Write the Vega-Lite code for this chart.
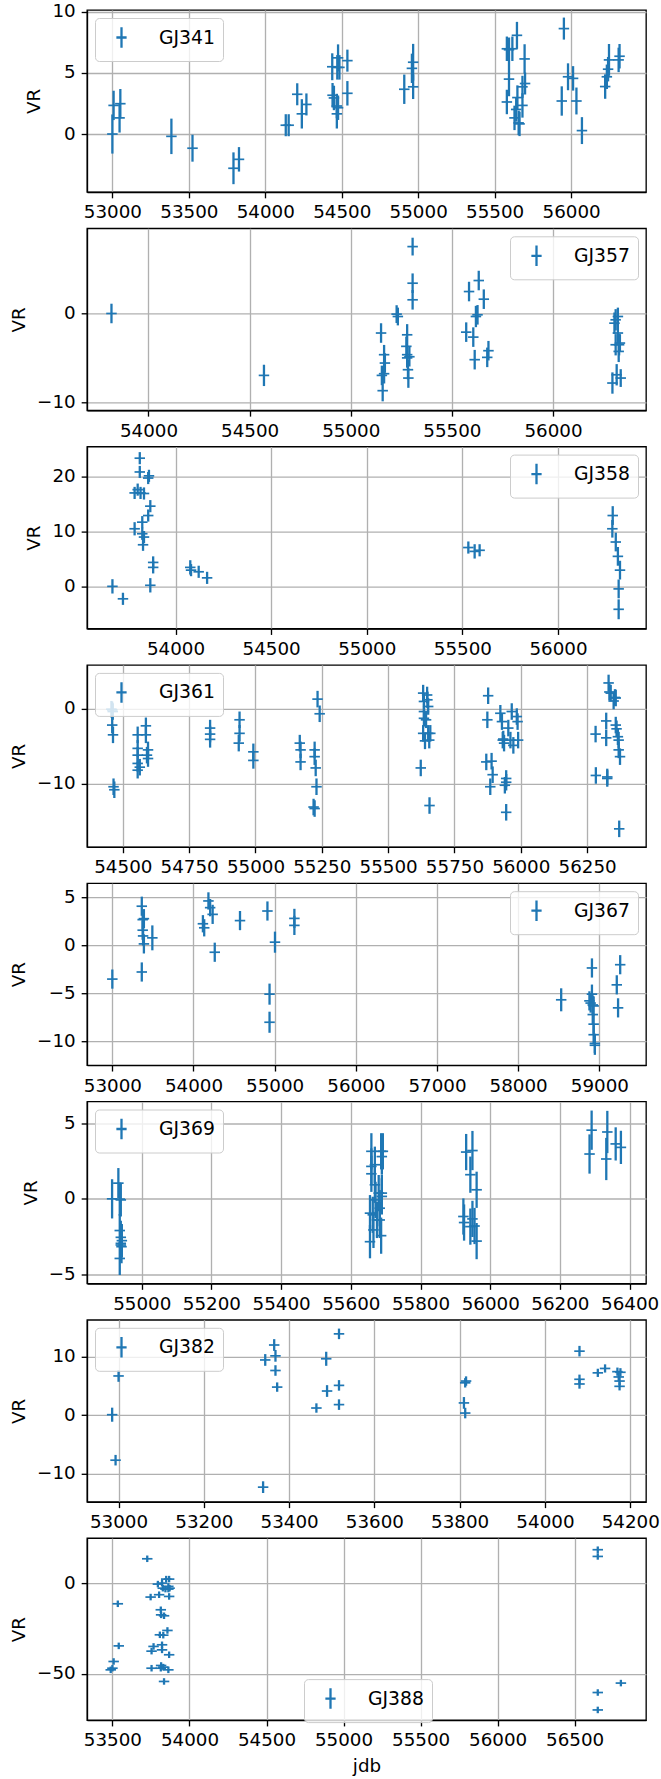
{
"$schema": "https://vega.github.io/schema/vega-lite/v6.json",
"background": "white",
"padding": {"left": 8, "top": 1, "right": 0, "bottom": 0},
"autosize": {"type": "pad"},
"spacing": 36.3,
"bounds": "flush",
"datasets": {
"GJ341": [
{"star":"GJ341","jdb":53000,"vr":0.0,"err":1.6},{"star":"GJ341","jdb":53008,"vr":2.34,"err":1.2},{"star":"GJ341","jdb":53047,"vr":1.32,"err":1.2},{"star":"GJ341","jdb":53052,"vr":2.48,"err":1.2},{"star":"GJ341","jdb":53386,"vr":-0.19,"err":1.45},{"star":"GJ341","jdb":53524,"vr":-1.16,"err":1.1},{"star":"GJ341","jdb":53792,"vr":-2.8,"err":1.3},{"star":"GJ341","jdb":53828,"vr":-2.07,"err":1.0},{"star":"GJ341","jdb":54134,"vr":0.72,"err":0.9},{"star":"GJ341","jdb":54153,"vr":0.72,"err":0.9},{"star":"GJ341","jdb":54209,"vr":3.25,"err":0.9},{"star":"GJ341","jdb":54239,"vr":1.65,"err":1.2},{"star":"GJ341","jdb":54269,"vr":2.42,"err":0.9},{"star":"GJ341","jdb":54438,"vr":5.5,"err":1.1},{"star":"GJ341","jdb":54440,"vr":3.17,"err":1.0},{"star":"GJ341","jdb":54449,"vr":2.95,"err":1.0},{"star":"GJ341","jdb":54468,"vr":2.29,"err":1.0},{"star":"GJ341","jdb":54468,"vr":1.65,"err":1.2},{"star":"GJ341","jdb":54471,"vr":5.45,"err":1.0},{"star":"GJ341","jdb":54476,"vr":6.23,"err":1.1},{"star":"GJ341","jdb":54485,"vr":5.45,"err":1.0},{"star":"GJ341","jdb":54476,"vr":2.15,"err":1.0},{"star":"GJ341","jdb":54537,"vr":6.0,"err":0.9},{"star":"GJ341","jdb":54537,"vr":3.33,"err":1.0},{"star":"GJ341","jdb":54909,"vr":3.66,"err":1.2},{"star":"GJ341","jdb":54959,"vr":5.37,"err":1.2},{"star":"GJ341","jdb":54967,"vr":5.87,"err":1.5},{"star":"GJ341","jdb":54967,"vr":3.86,"err":1.0},{"star":"GJ341","jdb":55580,"vr":6.97,"err":1.0},{"star":"GJ341","jdb":55594,"vr":6.89,"err":1.0},{"star":"GJ341","jdb":55594,"vr":4.49,"err":1.4},{"star":"GJ341","jdb":55580,"vr":2.62,"err":1.0},{"star":"GJ341","jdb":55616,"vr":6.97,"err":1.0},{"star":"GJ341","jdb":55630,"vr":1.32,"err":1.0},{"star":"GJ341","jdb":55641,"vr":2.01,"err":1.0},{"star":"GJ341","jdb":55646,"vr":8.07,"err":1.1},{"star":"GJ341","jdb":55649,"vr":2.98,"err":1.0},{"star":"GJ341","jdb":55657,"vr":0.91,"err":1.0},{"star":"GJ341","jdb":55663,"vr":0.83,"err":1.0},{"star":"GJ341","jdb":55682,"vr":2.34,"err":1.0},{"star":"GJ341","jdb":55682,"vr":3.86,"err":0.9},{"star":"GJ341","jdb":55696,"vr":6.14,"err":1.2},{"star":"GJ341","jdb":55699,"vr":4.13,"err":0.9},{"star":"GJ341","jdb":55939,"vr":2.7,"err":1.2},{"star":"GJ341","jdb":55953,"vr":8.62,"err":0.9},{"star":"GJ341","jdb":55980,"vr":4.68,"err":1.1},{"star":"GJ341","jdb":56013,"vr":4.55,"err":1.0},{"star":"GJ341","jdb":56035,"vr":2.7,"err":1.1},{"star":"GJ341","jdb":56071,"vr":0.28,"err":1.1},{"star":"GJ341","jdb":56223,"vr":3.88,"err":1.0},{"star":"GJ341","jdb":56234,"vr":4.68,"err":1.0},{"star":"GJ341","jdb":56242,"vr":5.3,"err":1.0},{"star":"GJ341","jdb":56248,"vr":6.06,"err":1.3},{"star":"GJ341","jdb":56311,"vr":6.06,"err":1.0},{"star":"GJ341","jdb":56317,"vr":6.36,"err":1.0}
],
"GJ357": [
{"star":"GJ357","jdb":53817,"vr":0.0,"err":1.1},{"star":"GJ357","jdb":54571,"vr":-6.97,"err":1.2},{"star":"GJ357","jdb":55150,"vr":-2.2,"err":1.1},{"star":"GJ357","jdb":55154,"vr":-6.97,"err":1.1},{"star":"GJ357","jdb":55158,"vr":-8.69,"err":1.2},{"star":"GJ357","jdb":55165,"vr":-4.64,"err":1.1},{"star":"GJ357","jdb":55169,"vr":-5.58,"err":1.1},{"star":"GJ357","jdb":55165,"vr":-6.78,"err":1.1},{"star":"GJ357","jdb":55227,"vr":-0.07,"err":1.0},{"star":"GJ357","jdb":55233,"vr":-0.34,"err":1.0},{"star":"GJ357","jdb":55279,"vr":-2.4,"err":1.2},{"star":"GJ357","jdb":55275,"vr":-3.7,"err":1.1},{"star":"GJ357","jdb":55279,"vr":-4.64,"err":1.1},{"star":"GJ357","jdb":55279,"vr":-5.0,"err":1.1},{"star":"GJ357","jdb":55283,"vr":-6.33,"err":1.1},{"star":"GJ357","jdb":55285,"vr":-7.27,"err":1.1},{"star":"GJ357","jdb":55290,"vr":-4.87,"err":1.1},{"star":"GJ357","jdb":55306,"vr":7.53,"err":1.0},{"star":"GJ357","jdb":55306,"vr":3.41,"err":1.1},{"star":"GJ357","jdb":55306,"vr":1.54,"err":1.1},{"star":"GJ357","jdb":55571,"vr":-2.1,"err":1.1},{"star":"GJ357","jdb":55585,"vr":2.47,"err":1.1},{"star":"GJ357","jdb":55606,"vr":-2.66,"err":1.1},{"star":"GJ357","jdb":55613,"vr":-5.2,"err":1.1},{"star":"GJ357","jdb":55619,"vr":-0.34,"err":1.2},{"star":"GJ357","jdb":55627,"vr":-0.15,"err":1.1},{"star":"GJ357","jdb":55633,"vr":3.71,"err":1.1},{"star":"GJ357","jdb":55658,"vr":1.61,"err":1.1},{"star":"GJ357","jdb":55675,"vr":-4.94,"err":1.1},{"star":"GJ357","jdb":55681,"vr":-4.19,"err":1.1},{"star":"GJ357","jdb":56294,"vr":-7.83,"err":1.2},{"star":"GJ357","jdb":56304,"vr":-1.09,"err":1.2},{"star":"GJ357","jdb":56310,"vr":-3.52,"err":1.2},{"star":"GJ357","jdb":56310,"vr":-0.71,"err":1.2},{"star":"GJ357","jdb":56315,"vr":-6.9,"err":1.2},{"star":"GJ357","jdb":56321,"vr":-0.34,"err":1.0},{"star":"GJ357","jdb":56321,"vr":-2.2,"err":1.2},{"star":"GJ357","jdb":56327,"vr":-3.52,"err":1.2},{"star":"GJ357","jdb":56325,"vr":-4.27,"err":1.2},{"star":"GJ357","jdb":56335,"vr":-7.27,"err":1.0},{"star":"GJ357","jdb":56331,"vr":-3.33,"err":1.0}
],
"GJ358": [
{"star":"GJ358","jdb":53670,"vr":0.06,"err":1.3},{"star":"GJ358","jdb":53725,"vr":-2.2,"err":1.1},{"star":"GJ358","jdb":53786,"vr":17.0,"err":1.1},{"star":"GJ358","jdb":53786,"vr":10.5,"err":1.2},{"star":"GJ358","jdb":53802,"vr":17.6,"err":1.1},{"star":"GJ358","jdb":53813,"vr":23.3,"err":1.1},{"star":"GJ358","jdb":53813,"vr":20.8,"err":1.1},{"star":"GJ358","jdb":53817,"vr":17.0,"err":1.1},{"star":"GJ358","jdb":53835,"vr":16.9,"err":1.1},{"star":"GJ358","jdb":53826,"vr":11.7,"err":1.1},{"star":"GJ358","jdb":53826,"vr":9.6,"err":1.1},{"star":"GJ358","jdb":53830,"vr":7.6,"err":1.1},{"star":"GJ358","jdb":53835,"vr":9.0,"err":1.1},{"star":"GJ358","jdb":53857,"vr":19.7,"err":1.1},{"star":"GJ358","jdb":53861,"vr":20.1,"err":1.1},{"star":"GJ358","jdb":53857,"vr":12.9,"err":1.1},{"star":"GJ358","jdb":53868,"vr":14.6,"err":1.1},{"star":"GJ358","jdb":53868,"vr":0.25,"err":1.3},{"star":"GJ358","jdb":53883,"vr":4.4,"err":1.1},{"star":"GJ358","jdb":53883,"vr":3.5,"err":1.1},{"star":"GJ358","jdb":54077,"vr":3.5,"err":1.3},{"star":"GJ358","jdb":54081,"vr":3.0,"err":1.1},{"star":"GJ358","jdb":54121,"vr":2.7,"err":1.1},{"star":"GJ358","jdb":54165,"vr":1.6,"err":1.1},{"star":"GJ358","jdb":55531,"vr":7.1,"err":1.1},{"star":"GJ358","jdb":55564,"vr":6.4,"err":1.3},{"star":"GJ358","jdb":55590,"vr":6.6,"err":1.1},{"star":"GJ358","jdb":56286,"vr":12.9,"err":1.7},{"star":"GJ358","jdb":56284,"vr":10.5,"err":1.6},{"star":"GJ358","jdb":56302,"vr":8.1,"err":1.7},{"star":"GJ358","jdb":56313,"vr":5.5,"err":1.7},{"star":"GJ358","jdb":56324,"vr":3.0,"err":1.7},{"star":"GJ358","jdb":56317,"vr":-0.4,"err":1.7},{"star":"GJ358","jdb":56317,"vr":-4.1,"err":1.8}
],
"GJ361": [
{"star":"GJ361","jdb":54457,"vr":-0.09,"err":1.1},{"star":"GJ361","jdb":54460,"vr":-0.18,"err":1.1},{"star":"GJ361","jdb":54462,"vr":-0.4,"err":1.1},{"star":"GJ361","jdb":54460,"vr":-2.2,"err":1.1},{"star":"GJ361","jdb":54463,"vr":-3.5,"err":1.1},{"star":"GJ361","jdb":54465,"vr":-10.4,"err":1.1},{"star":"GJ361","jdb":54468,"vr":-10.8,"err":1.1},{"star":"GJ361","jdb":54556,"vr":-3.5,"err":1.1},{"star":"GJ361","jdb":54556,"vr":-5.3,"err":1.1},{"star":"GJ361","jdb":54556,"vr":-6.2,"err":1.1},{"star":"GJ361","jdb":54556,"vr":-7.3,"err":1.1},{"star":"GJ361","jdb":54556,"vr":-8.2,"err":1.1},{"star":"GJ361","jdb":54564,"vr":-7.8,"err":1.1},{"star":"GJ361","jdb":54587,"vr":-2.3,"err":1.1},{"star":"GJ361","jdb":54587,"vr":-3.5,"err":1.1},{"star":"GJ361","jdb":54595,"vr":-5.5,"err":1.1},{"star":"GJ361","jdb":54595,"vr":-6.65,"err":1.1},{"star":"GJ361","jdb":54591,"vr":-6.2,"err":1.1},{"star":"GJ361","jdb":54829,"vr":-2.6,"err":1.1},{"star":"GJ361","jdb":54829,"vr":-3.4,"err":1.1},{"star":"GJ361","jdb":54829,"vr":-4.1,"err":1.1},{"star":"GJ361","jdb":54940,"vr":-1.5,"err":1.1},{"star":"GJ361","jdb":54940,"vr":-3.3,"err":1.1},{"star":"GJ361","jdb":54937,"vr":-4.6,"err":1.1},{"star":"GJ361","jdb":54992,"vr":-5.76,"err":1.1},{"star":"GJ361","jdb":54992,"vr":-6.9,"err":1.1},{"star":"GJ361","jdb":55167,"vr":-4.6,"err":1.1},{"star":"GJ361","jdb":55170,"vr":-5.5,"err":1.1},{"star":"GJ361","jdb":55170,"vr":-7.1,"err":1.1},{"star":"GJ361","jdb":55223,"vr":-5.5,"err":1.1},{"star":"GJ361","jdb":55223,"vr":-6.4,"err":1.1},{"star":"GJ361","jdb":55227,"vr":-7.9,"err":1.1},{"star":"GJ361","jdb":55230,"vr":-10.4,"err":1.1},{"star":"GJ361","jdb":55219,"vr":-13.1,"err":1.1},{"star":"GJ361","jdb":55223,"vr":-13.3,"err":1.1},{"star":"GJ361","jdb":55234,"vr":1.25,"err":1.1},{"star":"GJ361","jdb":55242,"vr":-0.7,"err":1.1},{"star":"GJ361","jdb":55623,"vr":-7.9,"err":1.1},{"star":"GJ361","jdb":55632,"vr":2.05,"err":1.1},{"star":"GJ361","jdb":55635,"vr":0.94,"err":1.1},{"star":"GJ361","jdb":55635,"vr":-0.4,"err":1.1},{"star":"GJ361","jdb":55635,"vr":-1.3,"err":1.1},{"star":"GJ361","jdb":55632,"vr":-3.3,"err":1.1},{"star":"GJ361","jdb":55639,"vr":-4.3,"err":1.1},{"star":"GJ361","jdb":55643,"vr":-1.5,"err":1.1},{"star":"GJ361","jdb":55647,"vr":1.8,"err":1.1},{"star":"GJ361","jdb":55648,"vr":1.16,"err":1.1},{"star":"GJ361","jdb":55651,"vr":0.27,"err":1.1},{"star":"GJ361","jdb":55651,"vr":-3.3,"err":1.1},{"star":"GJ361","jdb":55655,"vr":-4.2,"err":1.1},{"star":"GJ361","jdb":55656,"vr":-12.9,"err":1.1},{"star":"GJ361","jdb":55659,"vr":-3.3,"err":1.1},{"star":"GJ361","jdb":55877,"vr":1.7,"err":1.1},{"star":"GJ361","jdb":55874,"vr":-1.5,"err":1.1},{"star":"GJ361","jdb":55870,"vr":-7.1,"err":1.1},{"star":"GJ361","jdb":55890,"vr":-7.0,"err":1.1},{"star":"GJ361","jdb":55885,"vr":-10.4,"err":1.1},{"star":"GJ361","jdb":55894,"vr":-8.8,"err":1.1},{"star":"GJ361","jdb":55923,"vr":-0.63,"err":1.1},{"star":"GJ361","jdb":55929,"vr":-1.74,"err":1.1},{"star":"GJ361","jdb":55932,"vr":-4.2,"err":1.1},{"star":"GJ361","jdb":55934,"vr":-4.06,"err":1.1},{"star":"GJ361","jdb":55937,"vr":-4.6,"err":1.1},{"star":"GJ361","jdb":55940,"vr":-10.2,"err":1.1},{"star":"GJ361","jdb":55945,"vr":-9.8,"err":1.1},{"star":"GJ361","jdb":55945,"vr":-9.3,"err":1.1},{"star":"GJ361","jdb":55945,"vr":-13.8,"err":1.1},{"star":"GJ361","jdb":55953,"vr":-2.6,"err":1.1},{"star":"GJ361","jdb":55961,"vr":-4.2,"err":1.1},{"star":"GJ361","jdb":55966,"vr":-0.4,"err":1.1},{"star":"GJ361","jdb":55972,"vr":-4.9,"err":1.1},{"star":"GJ361","jdb":55985,"vr":-1.07,"err":1.1},{"star":"GJ361","jdb":55988,"vr":-1.74,"err":1.1},{"star":"GJ361","jdb":55990,"vr":-4.2,"err":1.1},{"star":"GJ361","jdb":56282,"vr":-3.4,"err":1.1},{"star":"GJ361","jdb":56283,"vr":-8.9,"err":1.1},{"star":"GJ361","jdb":56322,"vr":-1.65,"err":1.1},{"star":"GJ361","jdb":56322,"vr":-3.9,"err":1.1},{"star":"GJ361","jdb":56326,"vr":-9.1,"err":1.1},{"star":"GJ361","jdb":56326,"vr":-9.3,"err":1.1},{"star":"GJ361","jdb":56331,"vr":3.4,"err":1.1},{"star":"GJ361","jdb":56334,"vr":2.2,"err":1.1},{"star":"GJ361","jdb":56339,"vr":2.05,"err":1.1},{"star":"GJ361","jdb":56350,"vr":1.0,"err":1.1},{"star":"GJ361","jdb":56355,"vr":1.47,"err":1.1},{"star":"GJ361","jdb":56358,"vr":1.4,"err":1.1},{"star":"GJ361","jdb":56358,"vr":-2.2,"err":1.1},{"star":"GJ361","jdb":56361,"vr":-2.7,"err":1.1},{"star":"GJ361","jdb":56366,"vr":-3.75,"err":1.1},{"star":"GJ361","jdb":56369,"vr":-4.2,"err":1.1},{"star":"GJ361","jdb":56369,"vr":-5.5,"err":1.1},{"star":"GJ361","jdb":56374,"vr":-6.4,"err":1.1},{"star":"GJ361","jdb":56371,"vr":-16.0,"err":1.1}
],
"GJ367": [
{"star":"GJ367","jdb":53000,"vr":-3.5,"err":1.0},{"star":"GJ367","jdb":53363,"vr":4.1,"err":1.0},{"star":"GJ367","jdb":53374,"vr":2.7,"err":1.0},{"star":"GJ367","jdb":53389,"vr":2.8,"err":1.0},{"star":"GJ367","jdb":53374,"vr":1.6,"err":1.0},{"star":"GJ367","jdb":53379,"vr":1.0,"err":1.0},{"star":"GJ367","jdb":53389,"vr":0.17,"err":1.0},{"star":"GJ367","jdb":53363,"vr":-2.76,"err":1.0},{"star":"GJ367","jdb":53493,"vr":0.8,"err":1.3},{"star":"GJ367","jdb":54116,"vr":2.27,"err":0.9},{"star":"GJ367","jdb":54132,"vr":1.85,"err":0.9},{"star":"GJ367","jdb":54184,"vr":4.65,"err":0.9},{"star":"GJ367","jdb":54205,"vr":3.95,"err":0.9},{"star":"GJ367","jdb":54236,"vr":3.25,"err":1.0},{"star":"GJ367","jdb":54262,"vr":-0.7,"err":1.0},{"star":"GJ367","jdb":54573,"vr":2.6,"err":1.0},{"star":"GJ367","jdb":54911,"vr":3.6,"err":1.0},{"star":"GJ367","jdb":54937,"vr":-5.07,"err":1.1},{"star":"GJ367","jdb":54937,"vr":-8.0,"err":1.1},{"star":"GJ367","jdb":55004,"vr":0.35,"err":1.1},{"star":"GJ367","jdb":55243,"vr":2.83,"err":1.0},{"star":"GJ367","jdb":55243,"vr":2.1,"err":1.0},{"star":"GJ367","jdb":58530,"vr":-5.66,"err":1.2},{"star":"GJ367","jdb":58878,"vr":-5.77,"err":1.0},{"star":"GJ367","jdb":58893,"vr":-6.0,"err":1.0},{"star":"GJ367","jdb":58909,"vr":-2.34,"err":1.0},{"star":"GJ367","jdb":58909,"vr":-5.07,"err":1.0},{"star":"GJ367","jdb":58919,"vr":-6.2,"err":1.0},{"star":"GJ367","jdb":58930,"vr":-6.3,"err":1.0},{"star":"GJ367","jdb":58919,"vr":-7.2,"err":1.0},{"star":"GJ367","jdb":58930,"vr":-8.2,"err":1.0},{"star":"GJ367","jdb":58930,"vr":-9.3,"err":1.0},{"star":"GJ367","jdb":58945,"vr":-10.2,"err":1.0},{"star":"GJ367","jdb":58945,"vr":-10.4,"err":1.0},{"star":"GJ367","jdb":59215,"vr":-4.1,"err":1.0},{"star":"GJ367","jdb":59231,"vr":-6.5,"err":1.0},{"star":"GJ367","jdb":59257,"vr":-2.0,"err":1.0}
],
"GJ369": [
{"star":"GJ369","jdb":54915,"vr":0.0,"err":1.3},{"star":"GJ369","jdb":54933,"vr":1.04,"err":1.0},{"star":"GJ369","jdb":54937,"vr":-0.02,"err":1.1},{"star":"GJ369","jdb":54940,"vr":-0.07,"err":1.1},{"star":"GJ369","jdb":54937,"vr":-2.1,"err":1.1},{"star":"GJ369","jdb":54940,"vr":-2.55,"err":1.1},{"star":"GJ369","jdb":54940,"vr":-2.95,"err":1.1},{"star":"GJ369","jdb":54942,"vr":-3.17,"err":1.1},{"star":"GJ369","jdb":54940,"vr":-3.06,"err":1.1},{"star":"GJ369","jdb":54937,"vr":-3.95,"err":1.1},{"star":"GJ369","jdb":54943,"vr":-2.77,"err":1.1},{"star":"GJ369","jdb":55655,"vr":-0.95,"err":1.2},{"star":"GJ369","jdb":55655,"vr":-2.84,"err":1.1},{"star":"GJ369","jdb":55659,"vr":2.15,"err":1.2},{"star":"GJ369","jdb":55659,"vr":1.66,"err":1.2},{"star":"GJ369","jdb":55659,"vr":3.15,"err":1.2},{"star":"GJ369","jdb":55663,"vr":-1.06,"err":1.2},{"star":"GJ369","jdb":55665,"vr":-2.06,"err":1.2},{"star":"GJ369","jdb":55669,"vr":2.26,"err":1.2},{"star":"GJ369","jdb":55669,"vr":0.93,"err":1.2},{"star":"GJ369","jdb":55671,"vr":-0.07,"err":1.2},{"star":"GJ369","jdb":55675,"vr":-1.4,"err":1.2},{"star":"GJ369","jdb":55680,"vr":0.38,"err":1.2},{"star":"GJ369","jdb":55683,"vr":-0.62,"err":1.2},{"star":"GJ369","jdb":55687,"vr":3.15,"err":1.2},{"star":"GJ369","jdb":55689,"vr":2.8,"err":1.2},{"star":"GJ369","jdb":55689,"vr":0.38,"err":1.2},{"star":"GJ369","jdb":55683,"vr":-1.4,"err":1.2},{"star":"GJ369","jdb":55687,"vr":-2.44,"err":1.2},{"star":"GJ369","jdb":55689,"vr":0.16,"err":1.2},{"star":"GJ369","jdb":55692,"vr":3.15,"err":1.2},{"star":"GJ369","jdb":55931,"vr":3.1,"err":1.2},{"star":"GJ369","jdb":55923,"vr":-1.17,"err":1.2},{"star":"GJ369","jdb":55925,"vr":-1.57,"err":1.2},{"star":"GJ369","jdb":55949,"vr":3.2,"err":1.3},{"star":"GJ369","jdb":55943,"vr":1.6,"err":1.2},{"star":"GJ369","jdb":55943,"vr":-1.84,"err":1.2},{"star":"GJ369","jdb":55949,"vr":-1.33,"err":1.2},{"star":"GJ369","jdb":55955,"vr":-1.8,"err":1.2},{"star":"GJ369","jdb":55961,"vr":-2.8,"err":1.2},{"star":"GJ369","jdb":55961,"vr":0.6,"err":1.2},{"star":"GJ369","jdb":56285,"vr":2.97,"err":1.3},{"star":"GJ369","jdb":56291,"vr":4.55,"err":1.3},{"star":"GJ369","jdb":56333,"vr":2.64,"err":1.4},{"star":"GJ369","jdb":56336,"vr":4.43,"err":1.4},{"star":"GJ369","jdb":56360,"vr":3.64,"err":1.1},{"star":"GJ369","jdb":56375,"vr":3.41,"err":1.1}
],
"GJ382": [
{"star":"GJ382","jdb":52985,"vr":0.06,"err":1.2},{"star":"GJ382","jdb":52993,"vr":-7.7,"err":0.9},{"star":"GJ382","jdb":53000,"vr":6.67,"err":1.0},{"star":"GJ382","jdb":53339,"vr":-12.3,"err":1.0},{"star":"GJ382","jdb":53344,"vr":9.4,"err":1.0},{"star":"GJ382","jdb":53365,"vr":11.95,"err":1.0},{"star":"GJ382","jdb":53368,"vr":10.1,"err":1.0},{"star":"GJ382","jdb":53368,"vr":7.6,"err":0.9},{"star":"GJ382","jdb":53372,"vr":4.77,"err":0.8},{"star":"GJ382","jdb":53464,"vr":1.2,"err":0.8},{"star":"GJ382","jdb":53487,"vr":9.6,"err":1.2},{"star":"GJ382","jdb":53489,"vr":4.1,"err":1.0},{"star":"GJ382","jdb":53517,"vr":13.85,"err":0.9},{"star":"GJ382","jdb":53517,"vr":5.06,"err":0.9},{"star":"GJ382","jdb":53517,"vr":1.78,"err":0.9},{"star":"GJ382","jdb":53810,"vr":2.07,"err":1.0},{"star":"GJ382","jdb":53813,"vr":0.34,"err":0.9},{"star":"GJ382","jdb":53815,"vr":5.8,"err":0.8},{"star":"GJ382","jdb":53813,"vr":5.5,"err":0.8},{"star":"GJ382","jdb":54081,"vr":10.9,"err":0.9},{"star":"GJ382","jdb":54081,"vr":6.1,"err":0.8},{"star":"GJ382","jdb":54081,"vr":5.3,"err":0.8},{"star":"GJ382","jdb":54124,"vr":7.2,"err":0.7},{"star":"GJ382","jdb":54141,"vr":7.95,"err":0.7},{"star":"GJ382","jdb":54170,"vr":7.4,"err":0.7},{"star":"GJ382","jdb":54173,"vr":6.5,"err":0.7},{"star":"GJ382","jdb":54175,"vr":5.8,"err":0.7},{"star":"GJ382","jdb":54175,"vr":4.9,"err":0.7},{"star":"GJ382","jdb":54177,"vr":7.3,"err":0.7}
],
"GJ388": [
{"star":"GJ388","jdb":53489,"vr":-47.8,"err":1.8},{"star":"GJ388","jdb":53500,"vr":-46.9,"err":1.8},{"star":"GJ388","jdb":53508,"vr":-43.2,"err":1.8},{"star":"GJ388","jdb":53535,"vr":-11.4,"err":1.8},{"star":"GJ388","jdb":53541,"vr":-34.6,"err":1.8},{"star":"GJ388","jdb":53726,"vr":13.4,"err":1.8},{"star":"GJ388","jdb":53748,"vr":-7.7,"err":1.8},{"star":"GJ388","jdb":53754,"vr":-37.5,"err":1.8},{"star":"GJ388","jdb":53754,"vr":-46.9,"err":1.8},{"star":"GJ388","jdb":53767,"vr":-34.9,"err":1.8},{"star":"GJ388","jdb":53795,"vr":-0.55,"err":1.8},{"star":"GJ388","jdb":53803,"vr":-6.4,"err":1.8},{"star":"GJ388","jdb":53808,"vr":-28.5,"err":1.8},{"star":"GJ388","jdb":53814,"vr":-46.9,"err":1.8},{"star":"GJ388","jdb":53814,"vr":-14.7,"err":1.8},{"star":"GJ388","jdb":53816,"vr":-17.5,"err":1.8},{"star":"GJ388","jdb":53816,"vr":-45.4,"err":1.8},{"star":"GJ388","jdb":53822,"vr":0.0,"err":1.8},{"star":"GJ388","jdb":53822,"vr":-34.0,"err":1.8},{"star":"GJ388","jdb":53822,"vr":-36.8,"err":1.8},{"star":"GJ388","jdb":53827,"vr":-2.8,"err":1.8},{"star":"GJ388","jdb":53830,"vr":-46.3,"err":1.8},{"star":"GJ388","jdb":53835,"vr":-18.0,"err":1.8},{"star":"GJ388","jdb":53835,"vr":-54.2,"err":1.8},{"star":"GJ388","jdb":53844,"vr":-3.3,"err":1.8},{"star":"GJ388","jdb":53849,"vr":2.2,"err":1.8},{"star":"GJ388","jdb":53857,"vr":-26.1,"err":1.8},{"star":"GJ388","jdb":53863,"vr":-47.8,"err":1.8},{"star":"GJ388","jdb":53863,"vr":-1.8,"err":1.8},{"star":"GJ388","jdb":53863,"vr":-3.3,"err":1.8},{"star":"GJ388","jdb":53868,"vr":2.2,"err":1.8},{"star":"GJ388","jdb":53871,"vr":-2.8,"err":1.8},{"star":"GJ388","jdb":53868,"vr":-39.5,"err":1.8},{"star":"GJ388","jdb":53868,"vr":-7.35,"err":1.8},{"star":"GJ388","jdb":53830,"vr":-28.7,"err":1.8},{"star":"GJ388","jdb":56650,"vr":18.4,"err":1.8},{"star":"GJ388","jdb":56650,"vr":14.7,"err":1.8},{"star":"GJ388","jdb":56650,"vr":-60.3,"err":1.8},{"star":"GJ388","jdb":56650,"vr":-69.9,"err":1.8},{"star":"GJ388","jdb":56800,"vr":-55.1,"err":1.8}
]
},
"vconcat": [
{"width":559,"height":182,"data":{"name":"GJ341"},"layer":[
{"mark":{"type":"errorbar","color":"#1f77b4","thickness":2.3},"encoding":{"x":{"field":"jdb","type":"quantitative","scale":{"domain":[52834,56490],"nice":false,"zero":false},"axis":{"values":[53000,53500,54000,54500,55000,55500,56000],"format":"d","title":null}},"y":{"field":"vr","type":"quantitative","scale":{"domain":[-4.74,10.14],"nice":false,"zero":false},"axis":{"values":[0,5,10],"format":"d","title":"VR"}},"yError":{"field":"err"}}},
{"mark":{"type":"point","shape":"M-1,0H1","size":110,"filled":false,"strokeWidth":1.7,"opacity":1},"encoding":{"x":{"field":"jdb","type":"quantitative"},"y":{"field":"vr","type":"quantitative"},"color":{"field":"star","type":"nominal","scale":{"range":["#1f77b4"]},"legend":{"title":null,"orient":"top-left"}}}}]},
{"width":559,"height":182,"data":{"name":"GJ357"},"layer":[
{"mark":{"type":"errorbar","color":"#1f77b4","thickness":2.3},"encoding":{"x":{"field":"jdb","type":"quantitative","scale":{"domain":[53696,56460],"nice":false,"zero":false},"axis":{"values":[54000,54500,55000,55500,56000],"format":"d","title":null}},"y":{"field":"vr","type":"quantitative","scale":{"domain":[-10.9,9.59],"nice":false,"zero":false},"axis":{"values":[-10,0],"format":"d","title":"VR"}},"yError":{"field":"err"}}},
{"mark":{"type":"point","shape":"M-1,0H1","size":110,"filled":false,"strokeWidth":1.7,"opacity":1},"encoding":{"x":{"field":"jdb","type":"quantitative"},"y":{"field":"vr","type":"quantitative"},"color":{"field":"star","type":"nominal","scale":{"range":["#1f77b4"]},"legend":{"title":null,"orient":"top-right"}}}}]},
{"width":559,"height":182,"data":{"name":"GJ358"},"layer":[
{"mark":{"type":"errorbar","color":"#1f77b4","thickness":2.3},"encoding":{"x":{"field":"jdb","type":"quantitative","scale":{"domain":[53537,56460],"nice":false,"zero":false},"axis":{"values":[54000,54500,55000,55500,56000],"format":"d","title":null}},"y":{"field":"vr","type":"quantitative","scale":{"domain":[-7.6,25.4],"nice":false,"zero":false},"axis":{"values":[0,10,20],"format":"d","title":"VR"}},"yError":{"field":"err"}}},
{"mark":{"type":"point","shape":"M-1,0H1","size":110,"filled":false,"strokeWidth":1.7,"opacity":1},"encoding":{"x":{"field":"jdb","type":"quantitative"},"y":{"field":"vr","type":"quantitative"},"color":{"field":"star","type":"nominal","scale":{"range":["#1f77b4"]},"legend":{"title":null,"orient":"top-right"}}}}]},
{"width":559,"height":182,"data":{"name":"GJ361"},"layer":[
{"mark":{"type":"errorbar","color":"#1f77b4","thickness":2.3},"encoding":{"x":{"field":"jdb","type":"quantitative","scale":{"domain":[54365,56472],"nice":false,"zero":false},"axis":{"values":[54500,54750,55000,55250,55500,55750,56000,56250],"format":"d","title":null}},"y":{"field":"vr","type":"quantitative","scale":{"domain":[-18.4,5.8],"nice":false,"zero":false},"axis":{"values":[-10,0],"format":"d","title":"VR"}},"yError":{"field":"err"}}},
{"mark":{"type":"point","shape":"M-1,0H1","size":110,"filled":false,"strokeWidth":1.7,"opacity":1},"encoding":{"x":{"field":"jdb","type":"quantitative"},"y":{"field":"vr","type":"quantitative"},"color":{"field":"star","type":"nominal","scale":{"range":["#1f77b4"]},"legend":{"title":null,"orient":"top-left"}}}}]},
{"width":559,"height":182,"data":{"name":"GJ367"},"layer":[
{"mark":{"type":"errorbar","color":"#1f77b4","thickness":2.3},"encoding":{"x":{"field":"jdb","type":"quantitative","scale":{"domain":[52688,59575],"nice":false,"zero":false},"axis":{"values":[53000,54000,55000,56000,57000,58000,59000],"format":"d","title":null}},"y":{"field":"vr","type":"quantitative","scale":{"domain":[-12.48,6.5],"nice":false,"zero":false},"axis":{"values":[-10,-5,0,5],"format":"d","title":"VR"}},"yError":{"field":"err"}}},
{"mark":{"type":"point","shape":"M-1,0H1","size":110,"filled":false,"strokeWidth":1.7,"opacity":1},"encoding":{"x":{"field":"jdb","type":"quantitative"},"y":{"field":"vr","type":"quantitative"},"color":{"field":"star","type":"nominal","scale":{"range":["#1f77b4"]},"legend":{"title":null,"orient":"top-right"}}}}]},
{"width":559,"height":182,"data":{"name":"GJ369"},"layer":[
{"mark":{"type":"errorbar","color":"#1f77b4","thickness":2.3},"encoding":{"x":{"field":"jdb","type":"quantitative","scale":{"domain":[54843,56447],"nice":false,"zero":false},"axis":{"values":[55000,55200,55400,55600,55800,56000,56200,56400],"format":"d","title":null}},"y":{"field":"vr","type":"quantitative","scale":{"domain":[-5.61,6.45],"nice":false,"zero":false},"axis":{"values":[-5,0,5],"format":"d","title":"VR"}},"yError":{"field":"err"}}},
{"mark":{"type":"point","shape":"M-1,0H1","size":110,"filled":false,"strokeWidth":1.7,"opacity":1},"encoding":{"x":{"field":"jdb","type":"quantitative"},"y":{"field":"vr","type":"quantitative"},"color":{"field":"star","type":"nominal","scale":{"range":["#1f77b4"]},"legend":{"title":null,"orient":"top-left"}}}}]},
{"width":559,"height":182,"data":{"name":"GJ382"},"layer":[
{"mark":{"type":"errorbar","color":"#1f77b4","thickness":2.3},"encoding":{"x":{"field":"jdb","type":"quantitative","scale":{"domain":[52926,54237],"nice":false,"zero":false},"axis":{"values":[53000,53200,53400,53600,53800,54000,54200],"format":"d","title":null}},"y":{"field":"vr","type":"quantitative","scale":{"domain":[-14.8,16.25],"nice":false,"zero":false},"axis":{"values":[-10,0,10],"format":"d","title":"VR"}},"yError":{"field":"err"}}},
{"mark":{"type":"point","shape":"M-1,0H1","size":110,"filled":false,"strokeWidth":1.7,"opacity":1},"encoding":{"x":{"field":"jdb","type":"quantitative"},"y":{"field":"vr","type":"quantitative"},"color":{"field":"star","type":"nominal","scale":{"range":["#1f77b4"]},"legend":{"title":null,"orient":"top-left"}}}}]},
{"width":559,"height":182,"data":{"name":"GJ388"},"layer":[
{"mark":{"type":"errorbar","color":"#1f77b4","thickness":2.3},"encoding":{"x":{"field":"jdb","type":"quantitative","scale":{"domain":[53335,56963],"nice":false,"zero":false},"axis":{"values":[53500,54000,54500,55000,55500,56000,56500],"format":"d","title":"jdb"}},"y":{"field":"vr","type":"quantitative","scale":{"domain":[-75.5,24.8],"nice":false,"zero":false},"axis":{"values":[-50,0],"format":"d","title":"VR"}},"yError":{"field":"err"}}},
{"mark":{"type":"point","shape":"M-1,0H1","size":110,"filled":false,"strokeWidth":1.7,"opacity":1},"encoding":{"x":{"field":"jdb","type":"quantitative"},"y":{"field":"vr","type":"quantitative"},"color":{"field":"star","type":"nominal","scale":{"range":["#1f77b4"]},"legend":{"title":null,"orient":"none","legendX":217,"legendY":141}}}}]}
],
"resolve": {"scale": {"x": "independent", "y": "independent", "color": "independent"}, "axis": {"x": "independent", "y": "independent"}, "legend": {"color": "independent"}},
"config": {
"font": "DejaVu Sans",
"view": {"stroke": "black", "strokeWidth": 1.33},
"axis": {"labelFont": "DejaVu Sans", "labelFontSize": 18.3, "labelColor": "black", "tickColor": "black", "tickSize": 5.83, "tickWidth": 1.33, "labelPadding": 6, "gridColor": "#b0b0b0", "gridWidth": 1.33, "gridOpacity": 1, "domainColor": "black", "domainWidth": 1.33, "titleFont": "DejaVu Sans", "titleFontSize": 18.3, "titleFontWeight": "normal", "titleColor": "black", "titlePadding": 8, "labelFlush": false, "labelOverlap": false},
"legend": {"padding": 8, "offset": 8.3, "fillColor": "rgba(255,255,255,0.8)", "strokeColor": "#cccccc", "cornerRadius": 4, "symbolType": "M-0.5,0H0.5M0,-1V1", "symbolSize": 420, "symbolStrokeWidth": 2.3, "symbolFillColor": "transparent", "symbolOffset": 7, "labelOffset": 26, "labelFont": "DejaVu Sans", "labelFontSize": 18.8, "labelColor": "black"}
}
}
